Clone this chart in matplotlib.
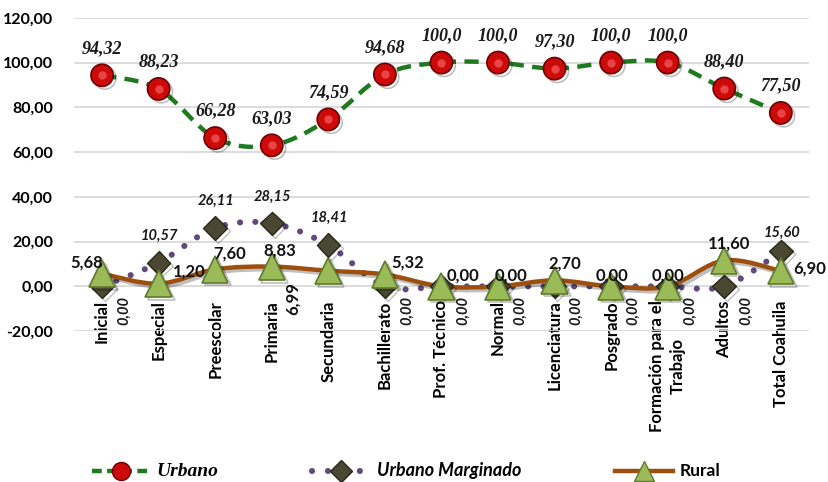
import numpy as np
import matplotlib
matplotlib.use("Agg")
import matplotlib.pyplot as plt
from matplotlib.path import Path
from matplotlib.patches import PathPatch
from matplotlib.lines import Line2D
import matplotlib.patheffects as pe

# --------------------------------------------------
# DATA
# --------------------------------------------------
categories = ["Inicial", "Especial", "Preescolar", "Primaria", "Secundaria",
              "Bachillerato", "Prof. Técnico", "Normal", "Licenciatura",
              "Posgrado", "Formación para el\nTrabajo", "Adultos",
              "Total Coahuila"]

urbano = [94.32, 88.23, 66.28, 63.03, 74.59, 94.68, 100.0, 100.0, 97.30,
          100.0, 100.0, 88.40, 77.50]
urbano_txt = ["94,32", "88,23", "66,28", "63,03", "74,59", "94,68", "100,0",
              "100,0", "97,30", "100,0", "100,0", "88,40", "77,50"]

marginado = [0.00, 10.57, 26.11, 28.15, 18.41, 0.00, 0.00, 0.00, 0.00,
             0.00, 0.00, 0.00, 15.60]

rural = [5.68, 1.20, 7.60, 8.83, 6.99, 5.32, 0.00, 0.00, 2.70, 0.00, 0.00,
         11.60, 6.90]

yticks = [-20, 0, 20, 40, 60, 80, 100, 120]

SANS = "Lato"
SERIF = "Liberation Serif"


def fmt(v):
    return f"{v:.2f}".replace(".", ",")


def smooth_path(xs, ys):
    # catmull-rom style bezier through the points (Excel "smoothed line")
    p = np.column_stack([xs, ys]).astype(float)
    n = len(p)
    verts = [p[0]]
    codes = [Path.MOVETO]
    for i in range(n - 1):
        p0 = p[i - 1] if i > 0 else p[i]
        p1 = p[i]
        p2 = p[i + 1]
        p3 = p[i + 2] if i + 2 < n else p[i + 1]
        c1 = p1 + (p2 - p0) / 6.0
        c2 = p2 - (p3 - p1) / 6.0
        verts += [c1, c2, p2]
        codes += [Path.CURVE4] * 3
    return Path(verts, codes)


x = np.arange(len(categories))

fig = plt.figure(figsize=(8.29, 4.82), dpi=100)
ax = fig.add_axes([0.089, 0.313, 0.887, 0.650])

# axis crosses at zero (set before tick labels, it resets them)
ax.spines["bottom"].set_position(("data", 0))

shadow = [pe.SimpleLineShadow(offset=(2, -2), alpha=0.25), pe.Normal()]

# --------------------------------------------------
# LINES
# --------------------------------------------------
c_urb = "#1f7a1f"
c_mar = "#604a7b"
c_rur = "#9c4f0e"

ax.add_patch(PathPatch(smooth_path(x, urbano), fill=False, edgecolor=c_urb,
                       lw=3.2, linestyle=(0, (3.2, 1.9)), zorder=2,
                       capstyle="butt"))
ax.add_patch(PathPatch(smooth_path(x, marginado), fill=False,
                       edgecolor=c_mar, lw=4.4, linestyle=(0, (0.01, 2.5)),
                       capstyle="round", zorder=2))
ax.add_patch(PathPatch(smooth_path(x, rural), fill=False, edgecolor=c_rur,
                       lw=3.2, zorder=3, capstyle="round",
                       path_effects=shadow))

# --------------------------------------------------
# MARKERS
# --------------------------------------------------
ax.plot(x, urbano, ls="none", marker="o", ms=16, mfc="#cc0a0a",
        mec="#6e0000", mew=1.2, zorder=5, path_effects=shadow)
ax.plot(x, urbano, ls="none", marker="o", ms=6, mfc="#ff6b6b", mec="none",
        alpha=0.6, zorder=5)
ax.plot(x, marginado, ls="none", marker="D", ms=12, mfc="#4a4732",
        mec="#2a2818", mew=1.0, zorder=5, path_effects=shadow)
ax.plot(x, rural, ls="none", marker="^", ms=19, mfc="#9bbb59",
        mec="#5f7a2e", mew=1.2, zorder=6, path_effects=shadow)

# --------------------------------------------------
# DATA LABELS
# --------------------------------------------------
for xi, v, t in zip(x, urbano, urbano_txt):
    ax.annotate(t, (xi, v), xytext=(0, 27), textcoords="offset pixels",
                ha="center", va="center", fontsize=13, family=SERIF,
                fontweight="bold", fontstyle="italic", color="#1a1a1a")

for xi, v in zip(x, marginado):
    if v == 0:
        ax.annotate(fmt(v), (xi, v), xytext=(22, -24),
                    textcoords="offset pixels", ha="center", va="center",
                    rotation=90, fontsize=10.5, family=SANS,
                    fontweight="bold", fontstyle="italic", color="#1a1a1a")
    else:
        dy = 19 if xi == len(x) - 1 else 27
        ax.annotate(fmt(v), (xi, v), xytext=(1, dy),
                    textcoords="offset pixels", ha="center", va="center",
                    fontsize=10.5, family=SANS, fontweight="bold",
                    fontstyle="italic", color="#1a1a1a")

rural_off = [(-15, 11), (31, 12), (14, 16), (8, 16), (-36, -28), (23, 12),
             (22, 11), (13, 11), (10, 17), (1, 11), (0, 11), (5, 17),
             (29, 2)]
for xi, v, off in zip(x, rural, rural_off):
    rot = 90 if off[1] < 0 else 0
    ax.annotate(fmt(v), (xi, v), xytext=off, textcoords="offset pixels",
                ha="center", va="center", rotation=rot, fontsize=12,
                family=SANS, fontweight="bold", color="#111111", zorder=7)

# --------------------------------------------------
# AXES
# --------------------------------------------------
ax.set_xlim(-0.5, len(x) - 0.5)
ax.set_ylim(-20, 120)
ax.set_yticks(yticks)
ax.set_yticklabels([fmt(v) for v in yticks], fontsize=11.5, family=SANS,
                   fontweight="bold")
ax.set_xticks(x)
ax.set_xticklabels(categories, rotation=90, fontsize=12, family=SANS,
                   fontweight="bold", ha="center", va="top",
                   linespacing=1.35)
for s in ax.spines.values():
    s.set_visible(False)
ax.tick_params(axis="both", length=0)
ax.tick_params(axis="x", pad=10)
ax.tick_params(axis="y", pad=15)
ax.grid(axis="y", color="#d9d9d9", lw=1.3)
ax.set_axisbelow(True)

# --------------------------------------------------
# LEGEND
# --------------------------------------------------
h_urb = Line2D([], [], color=c_urb, lw=3.2, ls=(0, (2.2, 1.2)), marker="o",
               ms=13, mfc="#cc0a0a", mec="#6e0000")
h_mar = Line2D([], [], color=c_mar, lw=4.4, ls=(0, (0.01, 2.6)),
               dash_capstyle="round", marker="D", ms=11, mfc="#4a4732",
               mec="#2a2818")
h_rur = Line2D([], [], color=c_rur, lw=3.2, marker="^", ms=15,
               mfc="#9bbb59", mec="#5f7a2e")
leg = fig.legend([h_urb, h_mar, h_rur],
                 ["Urbano", "Urbano Marginado", "Rural"],
                 loc="lower center", bbox_to_anchor=(0.49, -0.028), ncol=3,
                 frameon=False, handlelength=3.5, columnspacing=5.6,
                 handletextpad=0.4, fontsize=12)
txts = leg.get_texts()
txts[0].set_family(SERIF)
txts[0].set_fontsize(14)
txts[0].set_fontweight("bold")
txts[0].set_fontstyle("italic")
txts[1].set_family(SANS)
txts[1].set_fontsize(13)
txts[1].set_fontweight("bold")
txts[1].set_fontstyle("italic")
txts[2].set_family(SANS)
txts[2].set_fontsize(12.5)
txts[2].set_fontweight("bold")

plt.savefig("out.png", dpi=100)
